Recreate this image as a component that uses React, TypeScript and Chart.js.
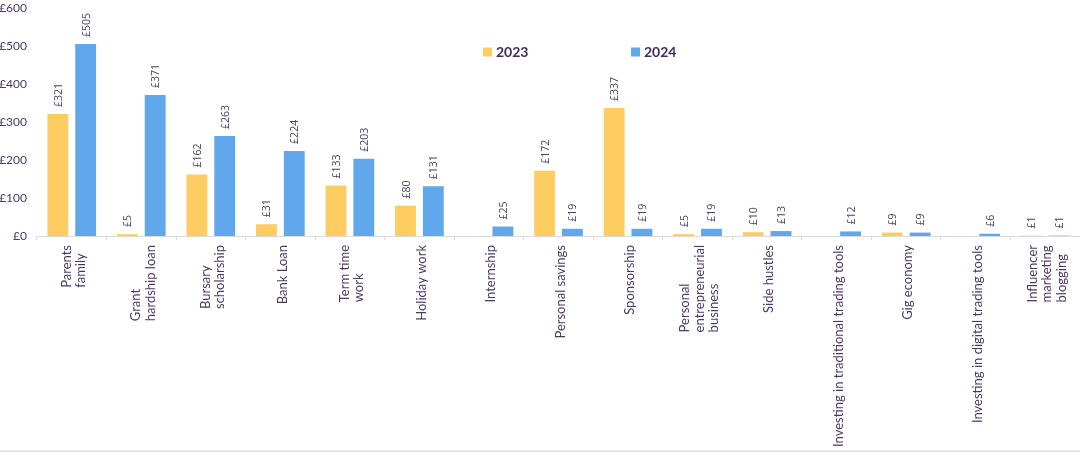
import React, { useEffect, useRef } from "react";
import { Chart, registerables } from "chart.js";

Chart.register(...registerables);

const categories: string[][] = [
  ["Parents", "family"],
  ["Grant", "hardship loan"],
  ["Bursary", "scholarship"],
  ["Bank Loan"],
  ["Term time", "work"],
  ["Holiday work"],
  ["Internship"],
  ["Personal savings"],
  ["Sponsorship"],
  ["Personal", "entrepreneurial", "business"],
  ["Side hustles"],
  ["Investing in traditional trading tools"],
  ["Gig economy"],
  ["Investing in digital trading tools"],
  ["Influencer", "marketing", "blogging"],
];

const seriesNames = ["2023", "2024"];
const values2023: (number | null)[] = [321, 5, 162, 31, 133, 80, null, 172, 337, 5, 10, null, 9, null, 1];
const values2024: (number | null)[] = [505, 371, 263, 224, 203, 131, 25, 19, 19, 19, 13, 12, 9, 6, 1];
const yMin = 0;
const yMax = 600;
const yStep = 100;

const YELLOW = "#FDCD62";
const BLUE = "#60A7EC";
const TEXT = "#4A3964";

const valueLabelPlugin = {
  id: "valueLabels",
  afterDatasetsDraw(chart: any) {
    const ctx = chart.ctx;
    ctx.save();
    ctx.font = "10.5px 'Open Sans', sans-serif";
    ctx.fillStyle = "#4A4060";
    ctx.textAlign = "left";
    ctx.textBaseline = "middle";
    chart.data.datasets.forEach((ds: any, di: number) => {
      const meta = chart.getDatasetMeta(di);
      meta.data.forEach((bar: any, i: number) => {
        const v = ds.data[i];
        if (v === null || v === undefined) return;
        ctx.save();
        ctx.translate(bar.x + 1, bar.y - 7);
        ctx.rotate(-Math.PI / 2);
        ctx.fillText("£" + v, 0, 0);
        ctx.restore();
      });
    });
    ctx.restore();
  },
};

const xLabelPlugin = {
  id: "xLabels",
  afterDraw(chart: any) {
    const ctx = chart.ctx;
    const xScale = chart.scales.x;
    const top = chart.chartArea.bottom + 9;
    const lineH = 14.5;
    ctx.save();
    ctx.font = "13px Lato, sans-serif";
    ctx.fillStyle = TEXT;
    ctx.textAlign = "left";
    ctx.textBaseline = "middle";
    (chart.data.labels as string[][]).forEach((lines, i) => {
      const cx = xScale.getPixelForValue(i) + 2;
      const maxW = Math.max(...lines.map((l) => ctx.measureText(l).width));
      const n = lines.length;
      lines.forEach((line, j) => {
        const x = cx + (j - (n - 1) / 2) * lineH;
        ctx.save();
        ctx.translate(x, top + maxW);
        ctx.rotate(-Math.PI / 2);
        ctx.fillText(line, 0, 0);
        ctx.restore();
      });
    });
    ctx.fillStyle = "#DCDCDC";
    ctx.fillRect(0, chart.height - 1.5, chart.width, 1.5);
    ctx.restore();
  },
};

const legendPlugin = {
  id: "customLegend",
  afterDraw(chart: any) {
    const ctx = chart.ctx;
    const positions = [483, 631];
    ctx.save();
    ctx.font = "bold 14px Lato, sans-serif";
    ctx.textBaseline = "middle";
    ctx.textAlign = "left";
    chart.data.datasets.forEach((ds: any, i: number) => {
      const x = positions[i];
      const y = 52;
      ctx.fillStyle = ds.backgroundColor;
      ctx.fillRect(x, y - 4.5, 9, 9);
      ctx.fillStyle = "#3E2C5C";
      ctx.fillText(ds.label, x + 13, y + 0.5);
    });
    ctx.restore();
  },
};

export default function App() {
  const ref = useRef<HTMLCanvasElement | null>(null);
  useEffect(() => {
    document.body.style.margin = "0";
    if (!ref.current) return;
    const chart = new Chart(ref.current, {
      type: "bar",
      data: {
        labels: categories,
        datasets: [
          { label: seriesNames[0], data: values2023, backgroundColor: YELLOW, categoryPercentage: 0.8, barPercentage: 0.75 },
          { label: seriesNames[1], data: values2024, backgroundColor: BLUE, categoryPercentage: 0.8, barPercentage: 0.75 },
        ],
      },
      options: {
        responsive: false,
        animation: false,
        layout: { padding: 0 },
        plugins: {
          legend: { display: false },
          tooltip: { enabled: false },
        },
        scales: {
          x: {
            grid: { display: true, drawOnChartArea: false, drawTicks: true, tickLength: 4, color: "#DADADA", offset: true },
            border: { display: true, color: "#DADADA" },
            ticks: { display: false },
            afterFit: (scale: any) => {
              scale.height = 216;
              scale.paddingLeft = 0;
              scale.paddingRight = 0;
            },
          },
          y: {
            min: yMin,
            max: yMax,
            grid: { display: false, drawTicks: false },
            border: { display: false },
            ticks: {
              stepSize: yStep,
              padding: 10,
              color: TEXT,
              font: { family: "Lato, sans-serif", size: 12 },
              callback: (v: any) => "£" + v,
            },
            afterFit: (scale: any) => {
              scale.width = 37;
              scale.paddingTop = 8;
              scale.paddingBottom = 0;
            },
          },
        },
      },
      plugins: [valueLabelPlugin, xLabelPlugin, legendPlugin],
    });
    return () => chart.destroy();
  }, []);
  return <canvas ref={ref} width={1080} height={452} style={{ display: "block" }} />;
}
